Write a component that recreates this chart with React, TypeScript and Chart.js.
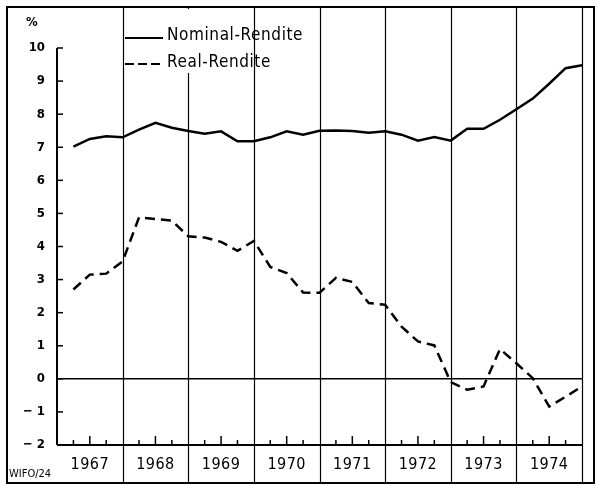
import React, { useEffect, useRef } from "react";
import { Chart, registerables } from "chart.js";

Chart.register(...registerables);

const years = ["1967", "1968", "1969", "1970", "1971", "1972", "1973", "1974"];
const yTicks = [-2, -1, 0, 1, 2, 3, 4, 5, 6, 7, 8, 9, 10];

// quarterly values, Q1 1967 .. Q4 1974
const nominal = [
  7.02, 7.25, 7.33, 7.3, 7.53, 7.74, 7.59, 7.49,
  7.41, 7.48, 7.18, 7.18, 7.3, 7.48, 7.38, 7.5,
  7.51, 7.49, 7.44, 7.48, 7.38, 7.2, 7.31, 7.2,
  7.56, 7.56, 7.83, 8.15, 8.47, 8.92, 9.39, 9.48,
];
const real = [
  2.7, 3.15, 3.18, 3.55, 4.88, 4.83, 4.78, 4.31,
  4.27, 4.14, 3.87, 4.17, 3.38, 3.2, 2.61, 2.6,
  3.05, 2.93, 2.29, 2.24, 1.58, 1.13, 1.01, -0.1,
  -0.33, -0.23, 0.9, 0.47, 0.02, -0.84, -0.54, -0.23,
];

const FONT = '"DejaVu Sans Condensed", "Liberation Sans Narrow", "DejaVu Sans", sans-serif';

const decor = {
  id: "decor",
  beforeDatasetsDraw(chart: any) {
    const { ctx, chartArea, scales } = chart;
    const { left, right } = chartArea;
    const x = scales.x;
    const y = scales.y;
    ctx.save();
    ctx.strokeStyle = "#000";
    // year dividers
    ctx.lineWidth = 1.2;
    for (let k = 1; k <= years.length; k++) {
      const px = Math.round(x.getPixelForValue(4 * k)) + 0.5;
      ctx.beginPath();
      ctx.moveTo(px, 7);
      ctx.lineTo(px, 483);
      ctx.stroke();
    }
    // zero line
    const y0 = y.getPixelForValue(0);
    ctx.lineWidth = 1.5;
    ctx.beginPath();
    ctx.moveTo(left, y0);
    ctx.lineTo(right, y0);
    ctx.stroke();
    // y axis and x axis
    const yTop = y.getPixelForValue(10);
    const yBot = y.getPixelForValue(-2);
    ctx.lineWidth = 2;
    ctx.beginPath();
    ctx.moveTo(left, yTop);
    ctx.lineTo(left, yBot);
    ctx.moveTo(left, yBot);
    ctx.lineTo(right, yBot);
    ctx.stroke();
    // y ticks + labels
    ctx.lineWidth = 1.5;
    ctx.font = "bold 13px " + FONT;
    ctx.fillStyle = "#000";
    ctx.textAlign = "right";
    ctx.textBaseline = "middle";
    yTicks.forEach((v) => {
      const py = y.getPixelForValue(v);
      ctx.beginPath();
      ctx.moveTo(left, py);
      ctx.lineTo(left + 6, py);
      ctx.stroke();
      const label = v < 0 ? "\u2212 " + Math.abs(v) : String(v);
      ctx.fillText(label, left - 12, py);
    });
    // x ticks
    for (let q = 1; q < 32; q++) {
      if (q % 4 === 0) continue;
      const px = x.getPixelForValue(q);
      const len = q % 4 === 2 ? 9 : 5;
      ctx.beginPath();
      ctx.moveTo(px, yBot);
      ctx.lineTo(px, yBot - len);
      ctx.stroke();
    }
    // year labels
    ctx.font = "16px " + FONT;
    ctx.letterSpacing = "0.5px";
    ctx.textAlign = "center";
    ctx.textBaseline = "middle";
    years.forEach((yr, i) => {
      ctx.fillText(yr, x.getPixelForValue(4 * i + 2), 465);
    });
    ctx.letterSpacing = "0px";
    // frame
    ctx.lineWidth = 2;
    ctx.strokeRect(7, 7, 587, 476);
    // unit and source
    ctx.font = "bold 13px " + FONT;
    ctx.textAlign = "left";
    ctx.fillText("%", 26, 23);
    ctx.font = "11px " + FONT;
    ctx.fillText("WIFO/24", 9, 474);
    // legend
    ctx.fillStyle = "#fff";
    ctx.fillRect(125, 9, 127, 64);
    ctx.fillStyle = "#000";
    ctx.lineWidth = 2;
    ctx.beginPath();
    ctx.moveTo(125, 38);
    ctx.lineTo(163, 38);
    ctx.stroke();
    ctx.setLineDash([9, 4]);
    ctx.beginPath();
    ctx.moveTo(125, 64);
    ctx.lineTo(163, 64);
    ctx.stroke();
    ctx.setLineDash([]);
    ctx.font = "17px " + FONT;
    ctx.letterSpacing = "0.6px";
    ctx.textBaseline = "alphabetic";
    ctx.fillText("Nominal-Rendite", 167, 40);
    ctx.fillText("Real-Rendite", 167, 67);
    ctx.letterSpacing = "0px";
    ctx.restore();
  },
};

export default function App() {
  const ref = useRef<HTMLCanvasElement>(null);
  useEffect(() => {
    if (!ref.current) return;
    const chart = new Chart(ref.current, {
      type: "line",
      data: {
        datasets: [
          {
            label: "Nominal-Rendite",
            data: nominal.map((v, i) => ({ x: i + 1, y: v })),
            borderColor: "#000",
            borderWidth: 2.5,
            pointRadius: 0,
            tension: 0,
            clip: false as any,
          },
          {
            label: "Real-Rendite",
            data: real.map((v, i) => ({ x: i + 1, y: v })),
            borderColor: "#000",
            borderWidth: 2.5,
            borderDash: [10, 6],
            pointRadius: 0,
            tension: 0,
            clip: false as any,
          },
        ],
      },
      options: {
        animation: false,
        responsive: true,
        maintainAspectRatio: false,
        layout: { padding: { left: 57, right: 13, top: 48, bottom: 40 } },
        scales: {
          x: { type: "linear", min: 0, max: 32, display: false },
          y: { type: "linear", min: -2, max: 10, display: false },
        },
        plugins: { legend: { display: false }, tooltip: { enabled: false } },
      },
      plugins: [decor],
    });
    return () => chart.destroy();
  }, []);
  return (
    <div style={{ position: "fixed", left: 0, top: 0, width: 595, height: 485, background: "#fff" }}>
      <canvas ref={ref} />
    </div>
  );
}
